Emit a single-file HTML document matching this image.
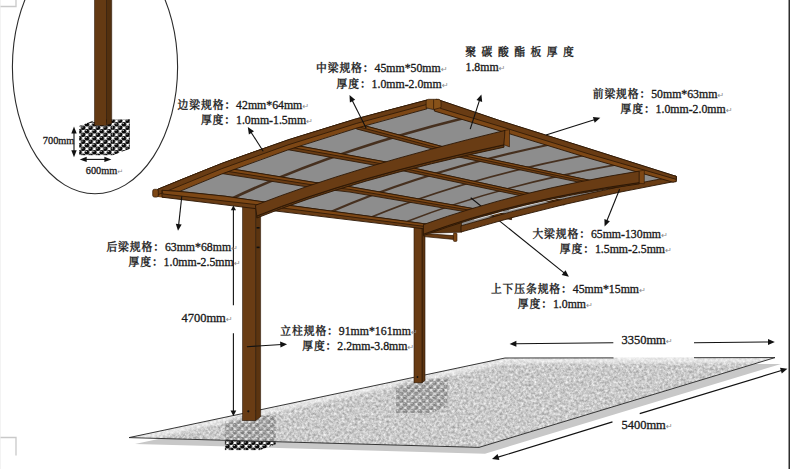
<!DOCTYPE html>
<html lang="zh"><head><meta charset="utf-8"><title>车棚规格示意图</title>
<style>
html,body{margin:0;padding:0;background:#fff;}
body{width:790px;height:469px;overflow:hidden;position:relative;}
svg{position:absolute;left:0;top:0;display:block;}
text{font-family:"Liberation Serif","Noto Serif CJK SC",serif;fill:#1a1a1a;}
.lab{font-size:11.8px;}
.dim{font-size:12.5px;}
.sm{font-size:10.3px;}
.cj{font-weight:500;font-size:10.8px;letter-spacing:0.9px;}
text{stroke:#1a1a1a;stroke-width:0.32px;}
.ret{stroke:none;fill:#8a8a8a;font-family:"DejaVu Sans",sans-serif;}
</style></head><body>
<svg width="790" height="469" viewBox="0 0 790 469">
<defs>
<pattern id="sph" width="7.4" height="7" patternUnits="userSpaceOnUse">
<rect width="7.4" height="7" fill="#fff"/>
<circle cx="1.85" cy="1.75" r="2.35" fill="#0a0a0a"/>
<circle cx="5.55" cy="5.25" r="2.35" fill="#0a0a0a"/><circle cx="9.25" cy="1.75" r="2.35" fill="#0a0a0a"/><circle cx="1.85" cy="8.75" r="2.35" fill="#0a0a0a"/><circle cx="-1.85" cy="5.25" r="2.35" fill="#0a0a0a"/><circle cx="5.55" cy="-1.75" r="2.35" fill="#0a0a0a"/>
<circle cx="1.1" cy="1.0" r="0.6" fill="#fff"/>
<circle cx="4.8" cy="4.5" r="0.6" fill="#fff"/>
</pattern>
<filter id="granite" x="0" y="0" width="100%" height="100%" color-interpolation-filters="sRGB">
<feTurbulence type="fractalNoise" baseFrequency="0.38" numOctaves="3" seed="7" result="n"/>
<feColorMatrix in="n" type="matrix" values="0.46 0 0 0 0.562  0.46 0 0 0 0.562  0.46 0 0 0 0.562  0 0 0 0 1" result="g"/>
<feGaussianBlur in="g" stdDeviation="0.5" result="gb"/>
<feComposite in="gb" in2="SourceGraphic" operator="in"/>
</filter>
<filter id="blur3" x="-5%" y="-20%" width="110%" height="140%"><feGaussianBlur stdDeviation="1.6"/></filter>
<filter id="blur2" x="-5%" y="-20%" width="110%" height="140%"><feGaussianBlur stdDeviation="0.6"/></filter>
</defs>
<rect width="790" height="469" fill="#fff"/>

<g stroke="#c9c9c9" stroke-width="1.3" fill="none"><path d="M0 6.5H16V0"/><path d="M0 437.5H16V455.5"/></g>
<line x1="0.3" y1="0" x2="0.3" y2="469" stroke="#ececec" stroke-width="0.8"/>
<rect x="788.5" y="0" width="1.5" height="469" fill="#2e2e2e"/>
<ellipse cx="95" cy="67" rx="82.6" ry="126.8" fill="none" stroke="#2c2c2c" stroke-width="1.1"/>
<g stroke="none">
<polygon points="79.2,126.1 112.7,126.1 130,119.4 96.5,119.4" fill="url(#sph)"/>
<polygon points="112.7,126.1 130,119 130,148.8 112.7,155.2" fill="url(#sph)"/>
<rect x="79.2" y="126.1" width="33.5" height="29.1" fill="url(#sph)"/>
</g>
<polygon points="106.3,-1 111.7,-1 111.7,123.6 106.3,125.3" fill="#52300f" stroke="#2b1605" stroke-width="0.6"/>
<rect x="94.6" y="-1" width="11.7" height="126.3" fill="#643a13" stroke="#2b1605" stroke-width="0.6"/>
<line x1="74.0" y1="132.2" x2="74.0" y2="151.7" stroke="#111" stroke-width="1.1"/><polygon points="74.0,157.3 71.3,150.3 76.7,150.3" fill="#111"/><polygon points="74.0,126.6 71.3,133.6 76.7,133.6" fill="#111"/>
<line x1="85.3" y1="159.4" x2="105.8" y2="159.4" stroke="#111" stroke-width="1.1"/><polygon points="111.4,159.4 104.4,162.1 104.4,156.7" fill="#111"/><polygon points="79.7,159.4 86.7,162.1 86.7,156.7" fill="#111"/>
<text class="sm" x="74.3" y="144" text-anchor="end">700mm</text>
<text class="sm" x="85.8" y="174.3">600mm<tspan class="ret" font-size="7">↵</tspan></text>
<polygon points="129.0,437.6 505.0,358.0 775.0,357.6 479.0,447.4" fill="#c8c8c8" transform="translate(6,6.3)" filter="url(#blur2)"/>
<polygon points="129.0,437.6 505.0,358.0 775.0,357.6 479.0,447.4" fill="#fff"/>
<g stroke="none"><polygon points="224.9,421.1 260.1,421.1 275.70000000000005,415.3 240.5,415.3" fill="url(#sph)"/><polygon points="260.1,421.1 275.70000000000005,415.3 275.70000000000005,444.3 260.1,450.1" fill="url(#sph)"/><rect x="224.9" y="421.1" width="35.2" height="29" fill="url(#sph)"/></g>
<g stroke="none"><polygon points="396,384.4 431,384.4 447.5,378.4 412.5,378.4" fill="url(#sph)"/><polygon points="431,384.4 447.5,378.4 447.5,407.0 431,413.0" fill="url(#sph)"/><rect x="396" y="384.4" width="35" height="28.6" fill="url(#sph)"/></g>
<polygon points="129.0,437.6 505.0,358.0 775.0,357.6 479.0,447.4" fill="#fff" filter="url(#granite)"/>
<clipPath id="gclip"><polygon points="129.0,437.6 505.0,358.0 775.0,357.6 479.0,447.4"/></clipPath>
<g clip-path="url(#gclip)" opacity="0.3"><g stroke="none"><polygon points="224.9,421.1 260.1,421.1 275.70000000000005,415.3 240.5,415.3" fill="url(#sph)"/><polygon points="260.1,421.1 275.70000000000005,415.3 275.70000000000005,444.3 260.1,450.1" fill="url(#sph)"/><rect x="224.9" y="421.1" width="35.2" height="29" fill="url(#sph)"/></g><g stroke="none"><polygon points="396,384.4 431,384.4 447.5,378.4 412.5,378.4" fill="url(#sph)"/><polygon points="431,384.4 447.5,378.4 447.5,407.0 431,413.0" fill="url(#sph)"/><rect x="396" y="384.4" width="35" height="28.6" fill="url(#sph)"/></g></g>
<g clip-path="url(#gclip)"><path d="M129 437.6L505 358L775 357.6" fill="none" stroke="#fff" stroke-width="11" opacity="0.55" filter="url(#blur3)"/></g>
<path d="M613.5 357.9L505 358L129 437.6L479 447.4L775 357.6L694 357.7" fill="none" stroke="#222" stroke-width="0.9"/>
<polygon points="255.7,208 260.6,208 260.6,416.6 255.7,420.5" fill="#5b3410" stroke="#2b1605" stroke-width="0.6"/><rect x="242.6" y="206" width="13.099999999999994" height="214.5" fill="#693c14" stroke="#2b1605" stroke-width="0.6"/>
<polygon points="422,228 425,228 425,380.3 422,382.8" fill="#5b3410" stroke="#2b1605" stroke-width="0.6"/><rect x="414" y="226" width="8" height="156.8" fill="#693c14" stroke="#2b1605" stroke-width="0.6"/>
<circle cx="248.3" cy="411.3" r="1.1" fill="#111"/><circle cx="417.5" cy="377" r="0.9" fill="#111"/>
<rect x="256.6" y="227" width="3" height="1.6" fill="#111"/><rect x="256.6" y="246.6" width="3" height="1.6" fill="#111"/>
<path d="M157.8,194.8 Q283.5,140.2 427.0,104.4 L676,178 L676.0,176.0 Q560.0,196.7 461.0,225.8 L424,226 Z" fill="#8d8d8d"/>
<path d="M231.0,199.0 Q331.1,151.2 462.4,118.5" fill="none" stroke="#46301f" stroke-width="2.6"/>
<path d="M331.0,211.8 Q425.7,170.7 548.8,144.7" fill="none" stroke="#46301f" stroke-width="2.1"/>
<path d="M371.5,217.0 Q464.0,178.6 584.0,155.4" fill="none" stroke="#46301f" stroke-width="1.8"/>
<path d="M407.0,221.6 Q498.0,185.6 615.5,164.9" fill="none" stroke="#46301f" stroke-width="1.6"/>
<polygon points="221.8,167.3 315.0,182.5 350.0,186.7 511.6,215.4 511.6,219.6 350.0,192.1 315.0,188.1 221.8,173.5" fill="#693c14" stroke="#2b1605" stroke-width="0.85"/><polygon points="221.8,167.3 315.0,182.5 350.0,186.7 511.6,215.4 511.6,217.5 350.0,189.4 315.0,185.3 221.8,170.4" fill="#7d4715" stroke="#2b1605" stroke-width="0.8"/>
<polygon points="288.0,143.9 385.0,161.8 564.3,201.0 564.3,205.0 385.0,167.0 288.0,149.7" fill="#693c14" stroke="#2b1605" stroke-width="0.85"/><polygon points="288.0,143.9 385.0,161.8 564.3,201.0 564.3,203.0 385.0,164.4 288.0,146.8" fill="#7d4715" stroke="#2b1605" stroke-width="0.8"/>
<polygon points="356.4,123.5 444.0,147.0 451.0,150.6 619.0,186.6 619.0,190.6 451.0,155.4 444.0,152.0 356.4,128.9" fill="#693c14" stroke="#2b1605" stroke-width="0.85"/><polygon points="356.4,123.5 444.0,147.0 451.0,150.6 619.0,186.6 619.0,188.6 451.0,153.0 444.0,149.5 356.4,126.2" fill="#7d4715" stroke="#2b1605" stroke-width="0.8"/>
<polygon points="430,233.2 436,226 461.5,217 461.5,232.2" fill="#5b3410" stroke="#2b1605" stroke-width="0.6"/>
<polygon points="424,233.6 453.6,235.6 453.6,239.4 424,236.6" fill="#693c14" stroke="#2b1605" stroke-width="0.7"/>
<rect x="453.4" y="233" width="3.6" height="8.4" rx="1" fill="#7d4715" stroke="#2b1605" stroke-width="0.6"/>
<line x1="470.7" y1="197.7" x2="564.7" y2="273.4" stroke="#111" stroke-width="1.1"/><polygon points="568.9,276.8 561.7,274.9 565.5,270.2" fill="#111"/>
<path d="M461.0,225.8 Q560.0,196.7 676.0,176.0 L676.0,181.2 Q560.0,202.4 461.0,232.0 Z" fill="#693c14" stroke="#2b1605" stroke-width="0.9" stroke-linejoin="round"/>
<path d="M461.0,223.6 Q560.0,194.5 676.0,173.8" fill="none" stroke="#d4d4d4" stroke-width="1.2" stroke-dasharray="0 14 30 6 52 5 50 200"/>
<path d="M157.8,189.2 Q283.5,135.2 427.0,100.0 L427.0,108.8 Q283.5,145.2 157.8,200.4 Z" fill="#7d4715" stroke="#2b1605" stroke-width="0.9" stroke-linejoin="round"/>
<path d="M157.8,189.2 Q283.5,135.2 427.0,100.0 L427.0,104.4 Q283.5,140.2 157.8,194.8 Z" fill="#693c14" stroke="#2b1605" stroke-width="0.8" stroke-linejoin="round"/>
<polygon points="150,196.0 176,199.2 176,206 150,206" fill="#fff"/>
<polygon points="162.0,190.3 180.0,191.5 225.0,196.2 261.0,201.5 360.0,215.0 426.0,224.0 426.0,229.0 414.0,227.6 255.4,208.6 162.0,197.2" fill="#693c14" stroke="#2b1605" stroke-width="0.9"/>
<polygon points="162.0,190.3 180.0,191.5 225.0,196.2 261.0,201.5 360.0,215.0 426.0,224.0 426.0,226.6 255.4,204.5 163.0,194.0" fill="#7d4715" stroke="#2b1605" stroke-width="0.8"/>
<polygon points="436.0,99.3 441.0,100.7 500.0,120.7 590.0,149.0 676.3,176.4 676.3,181.6 673.0,182.2 590.0,158.5 500.0,130.9 434.3,111.0" fill="#7d4715" stroke="#2b1605" stroke-width="0.9"/>
<polygon points="436.0,99.3 441.0,100.7 500.0,120.7 590.0,149.0 676.3,176.4 676.3,179.4 590.0,154.3 500.0,126.3 440.5,108.4" fill="#693c14" stroke="#2b1605" stroke-width="0.8"/>
<path d="M426.1,101.2 Q426.3,99.4 428.5,99.3 L438.5,99.3 Q441,99.6 441,102 L441,107.6 L433.6,109.6 L426.1,107.8 Z" fill="#875219" stroke="#2b1605" stroke-width="0.7"/>
<path d="M433.6,99.6 L433.6,109.4" stroke="#2b1605" stroke-width="0.7"/>
<path d="M256.8,216.0 Q352.0,177.3 504.0,144.8 L504.0,147.2 Q352.0,179.5 256.8,218.0 Z" fill="#5b3410" stroke="#2b1605" stroke-width="0.9" stroke-linejoin="round"/>
<path d="M255.4,205.3 Q352.0,167.4 505.0,130.4 L504.0,144.8 Q352.0,177.3 256.8,216.0 Z" fill="#693c14" stroke="#2b1605" stroke-width="0.9" stroke-linejoin="round"/>
<polygon points="505,130.4 509.5,129.6 509.5,146.9 504,144.8" fill="#7d4715" stroke="#2b1605" stroke-width="0.6"/>
<path d="M423.4,234.2 Q518.0,199.3 639.3,182.6 L639.3,183.9 Q518.0,200.6 423.4,235.5 Z" fill="#5b3410" stroke="#2b1605" stroke-width="0.9" stroke-linejoin="round"/>
<path d="M423.4,224.6 Q518.0,190.5 639.3,171.1 L639.3,182.6 Q518.0,199.3 423.4,234.2 Z" fill="#693c14" stroke="#2b1605" stroke-width="0.9" stroke-linejoin="round"/>
<polygon points="639.3,171.1 644.3,170.2 644.3,183.8 639.3,183.2" fill="#7d4715" stroke="#2b1605" stroke-width="0.6"/>
<rect x="152.7" y="189.3" width="5.6" height="7.8" rx="1.8" fill="#7d4715" stroke="#2b1605" stroke-width="0.7"/>
<line x1="263.2" y1="151.2" x2="250.7" y2="131.7" stroke="#111" stroke-width="1.1"/><polygon points="247.8,127.1 254.0,131.2 248.9,134.4" fill="#111"/>
<line x1="366.2" y1="128.2" x2="352.0" y2="100.0" stroke="#111" stroke-width="1.1"/><polygon points="349.5,95.1 355.2,99.8 349.9,102.5" fill="#111"/>
<line x1="470.2" y1="129.2" x2="479.7" y2="99.7" stroke="#111" stroke-width="1.1"/><polygon points="481.4,94.5 482.2,101.9 476.5,100.0" fill="#111"/>
<line x1="546.0" y1="135.0" x2="595.1" y2="119.4" stroke="#111" stroke-width="1.1"/><polygon points="600.3,117.8 594.7,122.7 592.9,117.0" fill="#111"/>
<line x1="619.6" y1="189.2" x2="606.6" y2="221.5" stroke="#111" stroke-width="1.1"/><polygon points="604.6,226.5 604.4,219.1 609.9,221.3" fill="#111"/>
<line x1="181.8" y1="196.3" x2="178.6" y2="225.4" stroke="#111" stroke-width="1.1"/><polygon points="178.0,230.8 175.8,223.7 181.7,224.4" fill="#111"/>
<line x1="246.9" y1="346.7" x2="281.7" y2="344.5" stroke="#111" stroke-width="1.1"/><polygon points="287.1,344.2 280.5,347.6 280.1,341.6" fill="#111"/>
<line x1="233.4" y1="305.2" x2="233.4" y2="209.3" stroke="#111" stroke-width="1.1"/><polygon points="233.4,205.6 236.0,210.2 230.8,210.2" fill="#111"/>
<line x1="233.4" y1="333.3" x2="233.4" y2="411.5" stroke="#111" stroke-width="1.1"/><polygon points="233.4,416.0 230.5,410.4 236.3,410.4" fill="#111"/>
<line x1="613.3" y1="342.8" x2="515.0" y2="343.8" stroke="#111" stroke-width="1.1"/><polygon points="509.6,343.9 516.4,340.8 516.4,346.8" fill="#111"/>
<line x1="694.0" y1="342.7" x2="769.4" y2="342.0" stroke="#111" stroke-width="1.1"/><polygon points="774.8,342.0 768.0,345.1 768.0,339.1" fill="#111"/>
<line x1="612.5" y1="421.9" x2="497.2" y2="457.4" stroke="#111" stroke-width="1.1"/><polygon points="492.0,459.0 497.6,454.1 499.4,459.9" fill="#111"/>
<line x1="639.7" y1="413.6" x2="782.2" y2="370.3" stroke="#111" stroke-width="1.1"/><polygon points="787.4,368.7 781.8,373.5 780.0,367.8" fill="#111"/>
<text class="lab" x="177.6" y="108.6"><tspan class="cj">边梁规格：</tspan>42mm*64mm<tspan class="ret" font-size="8" dx="0.2">↵</tspan></text>
<text class="lab" x="200.9" y="124.1"><tspan class="cj">厚度：</tspan>1.0mm-1.5mm<tspan class="ret" font-size="8" dx="0.2">↵</tspan></text>
<text class="lab" x="316" y="72"><tspan class="cj">中梁规格：</tspan>45mm*50mm<tspan class="ret" font-size="8" dx="0.2">↵</tspan></text>
<text class="lab" x="336.5" y="87.6"><tspan class="cj">厚度：</tspan>1.0mm-2.0mm<tspan class="ret" font-size="8" dx="0.2">↵</tspan></text>
<text class="lab cj" x="465.3" y="56" style="letter-spacing:5.5px">聚碳酸酯板厚度</text>
<text class="lab" x="465.5" y="71">1.8mm<tspan class="ret" font-size="8" dx="0.2">↵</tspan></text>
<text class="lab" x="592.7" y="98.2"><tspan class="cj">前梁规格：</tspan>50mm*63mm<tspan class="ret" font-size="8" dx="0.2">↵</tspan></text>
<text class="lab" x="620.5" y="113.4"><tspan class="cj">厚度：</tspan>1.0mm-2.0mm<tspan class="ret" font-size="8" dx="0.2">↵</tspan></text>
<text class="lab" x="532.4" y="238.3"><tspan class="cj">大梁规格：</tspan>65mm-130mm<tspan class="ret" font-size="8" dx="0.2">↵</tspan></text>
<text class="lab" x="559.8" y="253.4"><tspan class="cj">厚度：</tspan>1.5mm-2.5mm<tspan class="ret" font-size="8" dx="0.2">↵</tspan></text>
<text class="lab" x="490.9" y="293.1"><tspan class="cj">上下压条规格：</tspan>45mm*15mm<tspan class="ret" font-size="8" dx="0.2">↵</tspan></text>
<text class="lab" x="517.8" y="307.7"><tspan class="cj">厚度：</tspan>1.0mm<tspan class="ret" font-size="8" dx="0.2">↵</tspan></text>
<text class="lab" x="106.4" y="251.1"><tspan class="cj">后梁规格：</tspan>63mm*68mm<tspan class="ret" font-size="8" dx="0.2">↵</tspan></text>
<text class="lab" x="128.5" y="266.2"><tspan class="cj">厚度：</tspan>1.0mm-2.5mm<tspan class="ret" font-size="8" dx="0.2">↵</tspan></text>
<text class="lab" x="280.3" y="334.8"><tspan class="cj">立柱规格：</tspan>91mm*161mm<tspan class="ret" font-size="8" dx="0.2">↵</tspan></text>
<text class="lab" x="302.2" y="350"><tspan class="cj">厚度：</tspan>2.2mm-3.8mm<tspan class="ret" font-size="8" dx="0.2">↵</tspan></text>
<text class="dim" x="181.4" y="321.5">4700mm<tspan class="ret" font-size="8" dx="0.2">↵</tspan></text>
<text class="dim" x="621.4" y="344.4">3350mm<tspan class="ret" font-size="8" dx="0.2">↵</tspan></text>
<text class="dim" x="621.4" y="429.4">5400mm<tspan class="ret" font-size="8" dx="0.2">↵</tspan></text>
</svg></body></html>
